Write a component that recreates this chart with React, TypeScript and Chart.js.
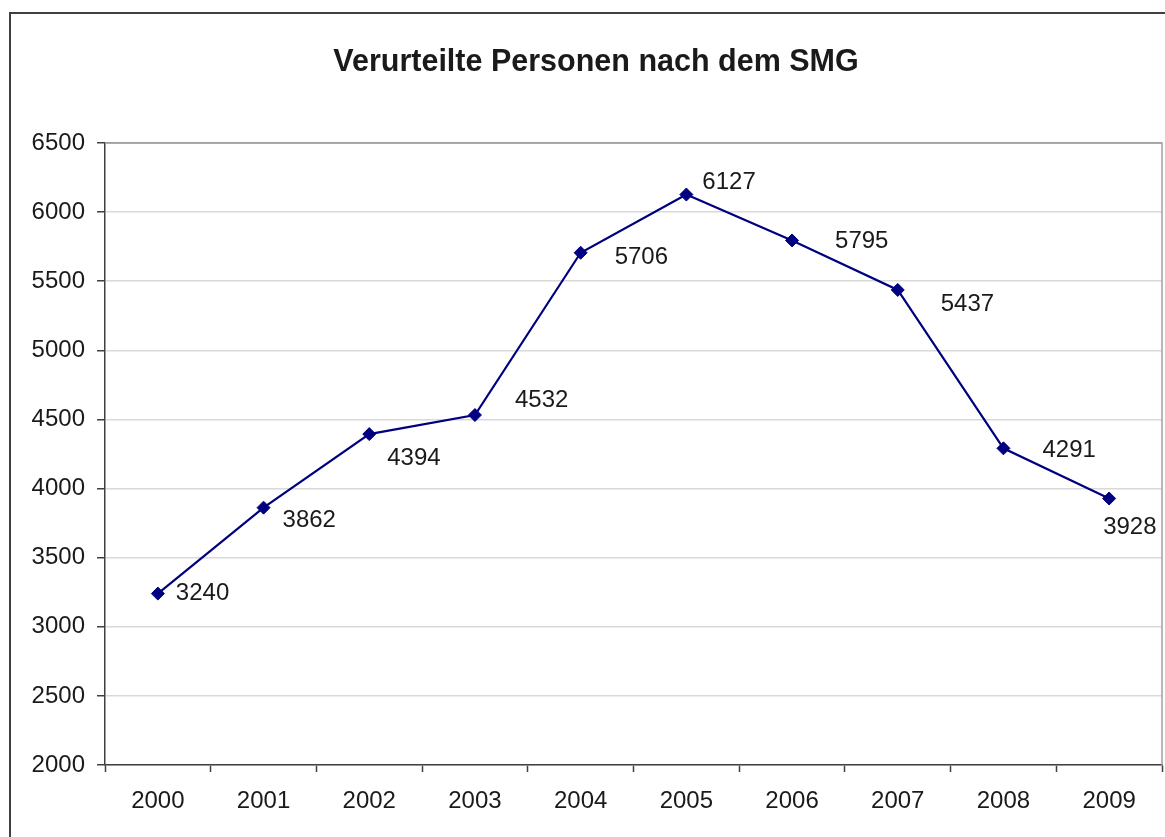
import React, { useEffect, useRef } from "react";
import { Chart, registerables } from "chart.js";

Chart.register(...registerables);

const chartTitle = "Verurteilte Personen nach dem SMG";
const years = ["2000", "2001", "2002", "2003", "2004", "2005", "2006", "2007", "2008", "2009"];
const convicted = [3240, 3862, 4394, 4532, 5706, 6127, 5795, 5437, 4291, 3928];
const yMin = 2000;
const yMax = 6500;
const yStep = 500;

// data label placement relative to each marker (px)
const labelDx = [18, 19, 18, 40, 34, 16, 43, 43, 39, -6];
const labelDy = [-2, 11, 22, -17, 3, -14, -1, 12, 0, 27];

const FONT = "'Liberation Sans', Arial, Helvetica, sans-serif";
const W = 1165;
const H = 837;

const decorPlugin = {
  id: "decor",
  beforeDraw(chart: any) {
    const { ctx } = chart;
    ctx.save();
    ctx.fillStyle = "#ffffff";
    ctx.fillRect(0, 0, W, H);
    ctx.strokeStyle = "#404040";
    ctx.lineWidth = 2;
    ctx.beginPath();
    ctx.moveTo(10, H);
    ctx.lineTo(10, 13);
    ctx.lineTo(W, 13);
    ctx.stroke();
    ctx.fillStyle = "#1a1a1a";
    ctx.font = `bold 30.5px ${FONT}`;
    ctx.textAlign = "center";
    ctx.textBaseline = "alphabetic";
    ctx.fillText(chartTitle, 596, 71);
    ctx.restore();
  },
  afterDraw(chart: any) {
    const { ctx, chartArea } = chart;
    ctx.save();
    ctx.strokeStyle = "#a0a0a0";
    ctx.lineWidth = 1.5;
    ctx.beginPath();
    ctx.moveTo(chartArea.left, chartArea.top);
    ctx.lineTo(chartArea.right, chartArea.top);
    ctx.lineTo(chartArea.right, chartArea.bottom);
    ctx.stroke();
    ctx.restore();
  },
  afterDatasetsDraw(chart: any) {
    const { ctx } = chart;
    const meta = chart.getDatasetMeta(0);
    ctx.save();
    ctx.fillStyle = "#1a1a1a";
    ctx.font = `24px ${FONT}`;
    ctx.textAlign = "left";
    ctx.textBaseline = "alphabetic";
    meta.data.forEach((pt: any, i: number) => {
      ctx.fillText(String(convicted[i]), pt.x + labelDx[i], pt.y + labelDy[i] + 8.6);
    });
    ctx.restore();
  },
};

export default function App() {
  const ref = useRef<HTMLCanvasElement | null>(null);
  useEffect(() => {
    if (!ref.current) return;
    const chart = new Chart(ref.current, {
      type: "line",
      data: {
        labels: years,
        datasets: [
          {
            data: convicted,
            borderColor: "#000080",
            backgroundColor: "#000080",
            borderWidth: 2.2,
            pointStyle: "rectRot",
            pointRadius: 6.5,
            pointBorderWidth: 1,
            pointBackgroundColor: "#000080",
            pointBorderColor: "#000080",
            tension: 0,
          },
        ],
      },
      options: {
        responsive: false,
        animation: false,
        layout: { autoPadding: false, padding: { top: 143, right: 3, bottom: 0, left: 0 } },
        plugins: {
          legend: { display: false },
          title: { display: false },
          tooltip: { enabled: false },
        },
        scales: {
          x: {
            offset: true,
            grid: {
              offset: true,
              drawOnChartArea: false,
              drawTicks: true,
              tickLength: 7,
              tickColor: "#404040",
              tickWidth: 1.5,
            },
            border: { color: "#404040", width: 1.5 },
            ticks: {
              color: "#1a1a1a",
              font: { family: FONT, size: 24 },
              padding: 15,
              maxRotation: 0,
              autoSkip: false,
            },
            afterFit(scale: any) {
              scale.height = 72;
              scale.paddingLeft = 0;
              scale.paddingRight = 0;
            },
          },
          y: {
            min: yMin,
            max: yMax,
            ticks: {
              stepSize: yStep,
              color: "#1a1a1a",
              font: { family: FONT, size: 24 },
              padding: 12,
              callback: (v: any) => String(v),
            },
            grid: {
              color: (c: any) => (c.tick && c.tick.value === yMax ? "#a0a0a0" : "#d9d9d9"),
              lineWidth: 1.5,
              tickLength: 8,
              tickColor: "#404040",
              tickWidth: 1.5,
            },
            border: { color: "#404040", width: 1.5 },
            afterFit(scale: any) {
              scale.width = 105;
              scale.paddingTop = 0;
              scale.paddingBottom = 0;
            },
          },
        },
      },
      plugins: [decorPlugin],
    });
    return () => chart.destroy();
  }, []);
  return (
    <div style={{ position: "absolute", left: 0, top: 0, width: W, height: H, background: "#fff" }}>
      <canvas ref={ref} width={W} height={H} style={{ display: "block" }} />
    </div>
  );
}
